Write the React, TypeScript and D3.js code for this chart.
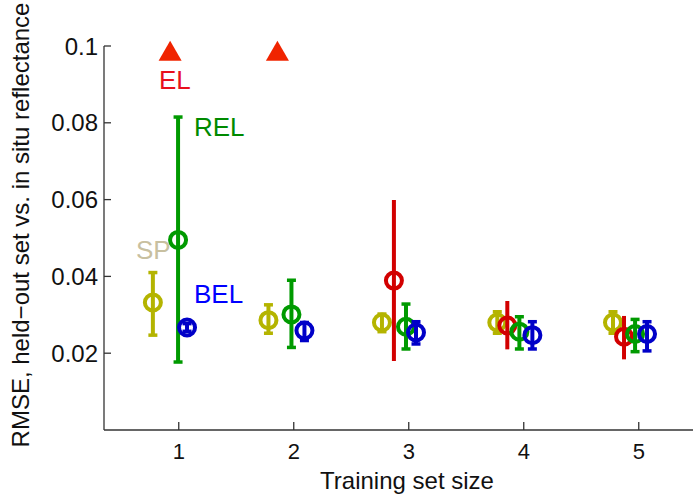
import React, { useRef, useEffect } from "react";
import * as d3 from "d3";

// training set sizes
const sizes = [1, 2, 3, 4, 5];
const yTicks = [0.02, 0.04, 0.06, 0.08, 0.1];

// SP
const spMean = [0.0332, 0.0286, 0.028, 0.028, 0.028];
const spLo = [0.0247, 0.0252, 0.0256, 0.0252, 0.0252];
const spHi = [0.041, 0.0326, 0.0302, 0.0308, 0.0308];
const spShift = [-0.225, -0.22, -0.233, -0.23, -0.224];

// EL (null = off the scale, drawn as a triangle)
const elMean = [null, null, 0.0389, 0.0272, 0.0243];
const elLo = [null, null, 0.018, 0.021, 0.0184];
const elHi = [null, null, 0.0599, 0.0336, 0.0297];
const elShift = [-0.075, -0.142, -0.129, -0.143, -0.128];

// REL
const relMean = [0.0495, 0.0301, 0.0269, 0.0256, 0.025];
const relLo = [0.0177, 0.0215, 0.0211, 0.0211, 0.0204];
const relHi = [0.0815, 0.039, 0.0328, 0.0295, 0.0288];
const relShift = [-0.006, -0.02, -0.024, -0.038, -0.032];

// BEL
const belMean = [0.0267, 0.0259, 0.0254, 0.0247, 0.025];
const belLo = [0.0257, 0.0233, 0.0224, 0.0211, 0.0206];
const belHi = [0.0277, 0.028, 0.0282, 0.0282, 0.0282];
const belShift = [0.072, 0.093, 0.063, 0.075, 0.072];

const series = [
    { name: "SP", mean: spMean, lo: spLo, hi: spHi, shift: spShift, color: "#b4b400", caps: true },
    { name: "EL", mean: elMean, lo: elLo, hi: elHi, shift: elShift, color: "#d20000", caps: false },
    { name: "REL", mean: relMean, lo: relLo, hi: relHi, shift: relShift, color: "#009a00", caps: true },
    { name: "BEL", mean: belMean, lo: belLo, hi: belHi, shift: belShift, color: "#0000c8", caps: true },
];

const labels = [
    { text: "EL", x: 159, y: 89, color: "#e8101c" },
    { text: "REL", x: 194, y: 136, color: "#008a00" },
    { text: "SP", x: 136, y: 259, color: "#c8c0a0" },
    { text: "BEL", x: 194, y: 303, color: "#0000ff" },
];

function App() {
    const ref = useRef(null);

    useEffect(() => {
        draw();
    }, []);

    const draw = () => {
        const svg = d3.select(ref.current);
        svg.selectAll("*").remove();
        const font = "'Liberation Sans', Arial, Helvetica, sans-serif";

        let x = d3.scaleLinear().domain([0.35, 5.5]).range([104, 696.25]);
        let y = d3.scaleLinear().domain([0, 0.1]).range([430, 46]);
        const left = x(0.35);
        const bottom = y(0);

        // axes
        const ax = svg.append("g").attr("stroke", "#333").attr("stroke-width", 1.3);
        ax.append("line").attr("x1", left).attr("x2", left).attr("y1", y(0.1)).attr("y2", bottom);
        ax.append("line").attr("x1", left).attr("x2", 693).attr("y1", bottom).attr("y2", bottom);
        ax.selectAll(".yt").data(yTicks).enter().append("line")
            .attr("x1", left).attr("x2", left + 7)
            .attr("y1", (d) => y(d)).attr("y2", (d) => y(d));
        ax.selectAll(".xt").data(sizes).enter().append("line")
            .attr("x1", (d) => x(d)).attr("x2", (d) => x(d))
            .attr("y1", bottom).attr("y2", bottom - 8);

        svg.selectAll(".ytl").data(yTicks).enter().append("text")
            .text((d) => String(d))
            .attr("x", left - 6).attr("y", (d) => y(d)).attr("dy", "0.36em")
            .attr("text-anchor", "end").attr("font-family", font).attr("font-size", 24).attr("fill", "#111");
        svg.selectAll(".xtl").data(sizes).enter().append("text")
            .text((d) => String(d))
            .attr("x", (d) => x(d)).attr("y", 459)
            .attr("text-anchor", "middle").attr("font-family", font).attr("font-size", 22).attr("fill", "#111");

        svg.append("text").text("Training set size")
            .attr("x", 407).attr("y", 489).attr("text-anchor", "middle")
            .attr("font-family", font).attr("font-size", 24).attr("fill", "#111");
        svg.append("text").text("RMSE, held\u2212out set vs. in situ reflectance")
            .attr("transform", "translate(29,225) rotate(-90)").attr("text-anchor", "middle")
            .attr("font-family", font).attr("font-size", 24).attr("fill", "#111");

        // error bars and circles
        series.forEach((s) => {
            const g = svg.append("g");
            sizes.forEach((n, i) => {
                const cx = x(n + s.shift[i]);
                if (s.mean[i] === null) {
                    // off the scale: triangle at the top
                    const tri = d3.symbol().type(d3.symbolTriangle).size(230);
                    g.append("path").attr("d", tri())
                        .attr("transform", "translate(" + cx + "," + (y(0.1) + 8) + ")")
                        .attr("fill", "#f02400");
                    return;
                }
                g.append("line")
                    .attr("x1", cx).attr("x2", cx)
                    .attr("y1", y(s.lo[i])).attr("y2", y(s.hi[i]))
                    .attr("stroke", s.color).attr("stroke-width", 4);
                if (s.caps) {
                    [s.lo[i], s.hi[i]].forEach((v) => {
                        g.append("line")
                            .attr("x1", cx - 4.5).attr("x2", cx + 4.5)
                            .attr("y1", y(v)).attr("y2", y(v))
                            .attr("stroke", s.color).attr("stroke-width", 3.5);
                    });
                }
                g.append("circle")
                    .attr("cx", cx).attr("cy", y(s.mean[i])).attr("r", 8)
                    .attr("fill", "none").attr("stroke", s.color).attr("stroke-width", 4);
            });
        });

        svg.selectAll(".lab").data(labels).enter().append("text")
            .text((d) => d.text)
            .attr("x", (d) => d.x).attr("y", (d) => d.y)
            .attr("font-family", font).attr("font-size", 26).attr("fill", (d) => d.color);
    };

    return (
        <svg ref={ref} width={693} height={498}
            style={{ position: "absolute", left: 0, top: 0, background: "white" }}></svg>
    );
}

export default App;
